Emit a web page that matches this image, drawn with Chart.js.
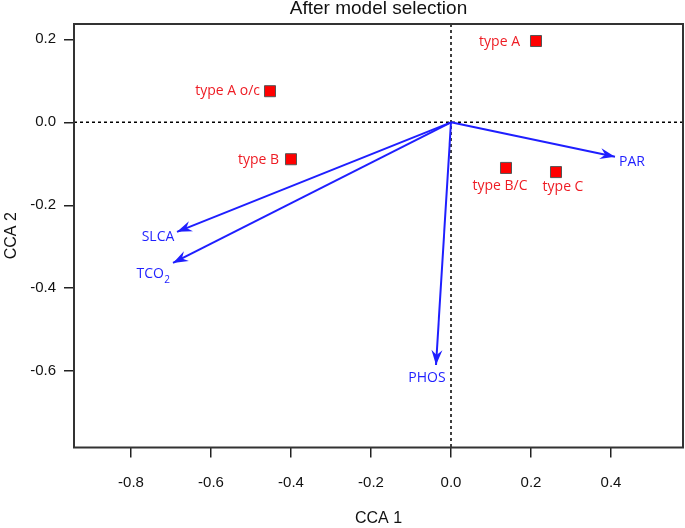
<!DOCTYPE html>
<html lang="en">
<head>
<meta charset="UTF-8">
<title>After model selection</title>
<script src="https://cdn.jsdelivr.net/npm/chart.js@4.4.0/dist/chart.umd.min.js"></script>
<style>
  html, body { margin: 0; padding: 0; background: #fff; }
  #wrap { width: 685px; height: 528px; }
</style>
</head>
<body>
<div id="wrap"><canvas id="chart" width="685" height="528"></canvas></div>
<script>
// site scores (red squares)
const siteNames = ['type A', 'type A o/c', 'type B', 'type B/C', 'type C'];
const siteX = [0.2125, -0.4525, -0.40, 0.1375, 0.2625];
const siteY = [0.196, 0.075, -0.089, -0.110, -0.120];

// environmental variable arrows (blue)
const varNames = ['PAR', 'SLCA', 'TCO2', 'PHOS'];
const varX = [0.41, -0.685, -0.695, -0.0375];
const varY = [-0.083, -0.264, -0.339, -0.585];

const xTicks = [-0.8, -0.6, -0.4, -0.2, 0.0, 0.2, 0.4];
const yTicks = [0.2, 0.0, -0.2, -0.4, -0.6];

const RED = '#ee1c24';
const BLUE = '#1f1fff';
const labelFont = '14px "Open Sans", "Noto Sans", sans-serif';
const subFont = '10px "Open Sans", "Noto Sans", sans-serif';

// label placement, px from the mark
const siteLabelPos = {
  'type A':     { dx: -16, dy: 1,  align: 'right' },
  'type A o/c': { dx: -10, dy: 0,  align: 'right' },
  'type B':     { dx: -12, dy: 1,  align: 'right' },
  'type B/C':   { dx: -6,  dy: 18, align: 'center' },
  'type C':     { dx: 7,   dy: 15, align: 'center' }
};
const varLabelPos = {
  'PAR':  { dx: 4,   dy: 5,  align: 'left' },
  'SLCA': { dx: -19, dy: 5,  align: 'center' },
  'TCO2': { dx: -20, dy: 11, align: 'center' },
  'PHOS': { dx: -9,  dy: 13, align: 'center' }
};

const arrowSets = varNames.map((n, i) => ({
  label: n,
  data: [{ x: 0, y: 0 }, { x: varX[i], y: varY[i] }],
  showLine: true,
  borderColor: BLUE,
  borderWidth: 2,
  pointRadius: 0,
  order: 2
}));

function noPad(s) {
  s.paddingLeft = 0; s.paddingRight = 0; s.paddingTop = 0; s.paddingBottom = 0;
}

const plotDecor = {
  id: 'plotDecor',
  beforeDatasetsDraw(chart) {
    const { ctx, chartArea: a, scales: { x, y } } = chart;
    ctx.save();
    ctx.strokeStyle = '#000';
    ctx.lineWidth = 1.5;
    ctx.setLineDash([3, 3]);
    const x0 = x.getPixelForValue(0), y0 = y.getPixelForValue(0);
    ctx.beginPath();
    ctx.moveTo(a.left, y0); ctx.lineTo(a.right, y0);
    ctx.moveTo(x0, a.top); ctx.lineTo(x0, a.bottom);
    ctx.stroke();
    ctx.restore();
  },
  afterDatasetsDraw(chart) {
    const { ctx, chartArea: a, scales: { x, y } } = chart;
    ctx.save();
    // arrow heads
    const ox = x.getPixelForValue(0), oy = y.getPixelForValue(0);
    ctx.fillStyle = BLUE;
    varNames.forEach((n, i) => {
      const tx = x.getPixelForValue(varX[i]), ty = y.getPixelForValue(varY[i]);
      const ang = Math.atan2(ty - oy, tx - ox);
      const L = 15, W = 5.5, N = 10;
      ctx.save();
      ctx.translate(tx, ty);
      ctx.rotate(ang);
      ctx.beginPath();
      ctx.moveTo(0, 0);
      ctx.lineTo(-L, -W);
      ctx.lineTo(-N, 0);
      ctx.lineTo(-L, W);
      ctx.closePath();
      ctx.fill();
      ctx.restore();
    });
    // arrow labels
    ctx.textBaseline = 'middle';
    varNames.forEach((n, i) => {
      const p = varLabelPos[n];
      const px = x.getPixelForValue(varX[i]) + p.dx, py = y.getPixelForValue(varY[i]) + p.dy;
      ctx.fillStyle = BLUE;
      ctx.font = labelFont;
      if (n === 'TCO2') {
        const main = 'TCO';
        const w1 = ctx.measureText(main).width;
        ctx.font = subFont;
        const w2 = ctx.measureText('2').width;
        const left = px - (w1 + w2) / 2;
        ctx.textAlign = 'left';
        ctx.font = labelFont;
        ctx.fillText(main, left, py);
        ctx.font = subFont;
        ctx.fillText('2', left + w1 + 0.5, py + 6);
      } else {
        ctx.textAlign = p.align;
        ctx.fillText(n, px, py);
      }
    });
    // site labels
    ctx.font = labelFont;
    ctx.fillStyle = RED;
    siteNames.forEach((n, i) => {
      const p = siteLabelPos[n];
      ctx.textAlign = p.align;
      ctx.fillText(n, x.getPixelForValue(siteX[i]) + p.dx, y.getPixelForValue(siteY[i]) + p.dy);
    });
    // frame
    ctx.setLineDash([]);
    ctx.strokeStyle = '#333';
    ctx.lineWidth = 2;
    ctx.strokeRect(a.left, a.top, a.right - a.left, a.bottom - a.top);
    // titles
    ctx.fillStyle = '#111';
    ctx.textAlign = 'center';
    ctx.font = '19px "Liberation Sans", Arial, sans-serif';
    ctx.fillText('After model selection', (a.left + a.right) / 2, 9);
    ctx.font = '16px "Liberation Sans", Arial, sans-serif';
    ctx.fillText('CCA 1', (a.left + a.right) / 2, 519);
    ctx.translate(12, (a.top + a.bottom) / 2);
    ctx.rotate(-Math.PI / 2);
    ctx.fillText('CCA 2', 0, 0);
    ctx.restore();
  }
};

const tickFont = { family: '"Liberation Sans", Arial, sans-serif', size: 15 };

new Chart(document.getElementById('chart'), {
  type: 'scatter',
  data: {
    datasets: [
      {
        label: 'sites',
        data: siteNames.map((n, i) => ({ x: siteX[i], y: siteY[i] })),
        pointStyle: 'rect',
        pointRadius: 7.8,
        pointHoverRadius: 7.8,
        backgroundColor: '#ff0000',
        borderColor: '#555',
        borderWidth: 1,
        order: 1
      },
      ...arrowSets
    ]
  },
  options: {
    responsive: false,
    animation: false,
    events: [],
    layout: { autoPadding: false, padding: { top: 24, right: 2, left: 0, bottom: 0 } },
    plugins: { legend: { display: false }, tooltip: { enabled: false } },
    scales: {
      x: {
        type: 'linear',
        min: -0.9425,
        max: 0.58,
        afterBuildTicks: s => { s.ticks = xTicks.map(v => ({ value: v })); },
        afterFit: s => { s.height = 80.5; noPad(s); },
        border: { display: false },
        grid: { drawOnChartArea: false, drawTicks: true, tickLength: 10, color: '#222', lineWidth: 1.5 },
        ticks: { color: '#111', font: tickFont, padding: 16, maxRotation: 0,
                 callback: v => v.toFixed(1) }
      },
      y: {
        type: 'linear',
        min: -0.784,
        max: 0.237,
        afterBuildTicks: s => { s.ticks = yTicks.map(v => ({ value: v })); },
        afterFit: s => { s.width = 74; noPad(s); },
        border: { display: false },
        grid: { drawOnChartArea: false, drawTicks: true, tickLength: 10, color: '#222', lineWidth: 1.5 },
        ticks: { color: '#111', font: tickFont, padding: 8,
                 callback: v => v.toFixed(1) }
      }
    }
  },
  plugins: [plotDecor]
});
</script>
</body>
</html>
